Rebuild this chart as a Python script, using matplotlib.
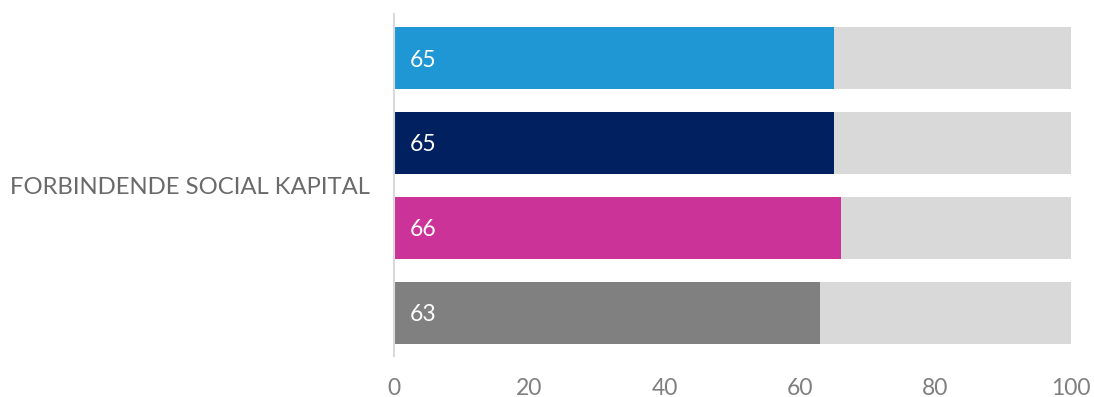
import matplotlib
matplotlib.use("Agg")
import matplotlib.pyplot as plt

category = "FORBINDENDE SOCIAL KAPITAL"
values = [65, 65, 66, 63]
colors = ["#1f97d4", "#002060", "#cc3399", "#808080"]
max_value = 100
xticks = [0, 20, 40, 60, 80, 100]

plt.rcParams["font.family"] = ["Lato", "DejaVu Sans"]
weight = "normal"

fig = plt.figure(figsize=(10.94, 3.97), dpi=100)
ax = fig.add_axes([0.3601, 0.1033, 0.6188, 0.8615])

pos = list(range(len(values)))
ax.barh(pos, [max_value] * len(values), height=0.73, color="#d9d9d9", zorder=1)
ax.barh(pos, values, height=0.73, color=colors, zorder=2)
for p, v in zip(pos, values):
    ax.text(2.3, p, f"{v}", color="white", va="center_baseline", ha="left",
            fontsize=16.5, fontweight=weight, zorder=3)

ax.set_xlim(0, 100)
ax.set_ylim(3.506, -0.518)
ax.set_xticks(xticks)
ax.set_xticklabels([str(t) for t in xticks], fontsize=16.5, color="#7f7f7f",
                   fontweight=weight)
ax.tick_params(axis="x", length=0, pad=15.5)
ax.set_yticks([1.5])
ax.set_yticklabels([category], fontsize=17.2, color="#6a6a6a", fontweight=weight)
ax.tick_params(axis="y", length=0, pad=17)
for s in ["top", "right", "bottom"]:
    ax.spines[s].set_visible(False)
ax.spines["left"].set_color("#d9d9d9")
ax.spines["left"].set_linewidth(1.5)
ax.spines["left"].set_zorder(4)

fig.savefig("out.png", dpi=100)
